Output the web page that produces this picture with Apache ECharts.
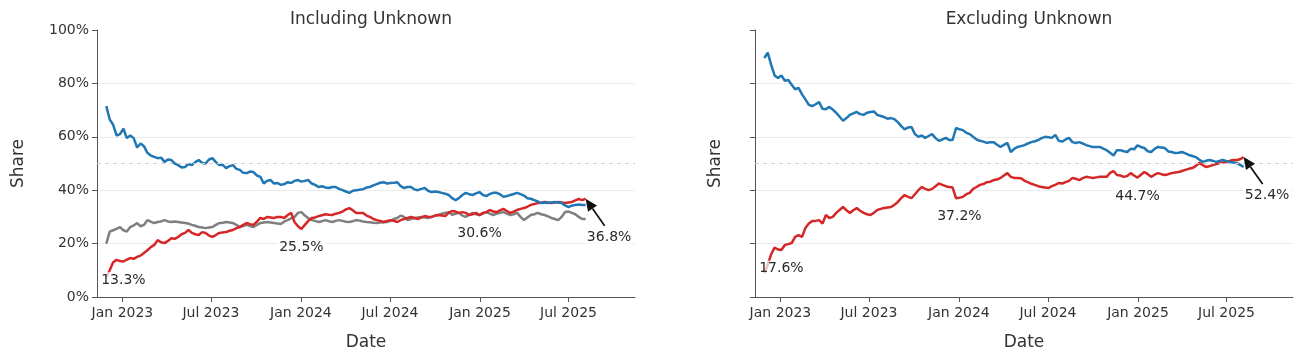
<!DOCTYPE html>
<html><head><meta charset="utf-8">
<script src="https://cdn.jsdelivr.net/npm/echarts@6/dist/echarts.min.js"></script>
<style>html,body{margin:0;padding:0;background:#fff}#c{width:1302px;height:363px}</style>
</head><body><div id="c"></div><script>
// ---- data (weekly samples starting 2022-11-29) ----
const startDate = [2022, 10, 29];
const stepDays = 7;
const blueIncl = [
71.5,66.5,64.5,60.5,61,63,59.5,60.5,59.5,56,
57.5,56.5,54,53,52.5,52,52.2,50.6,51.5,51.3,
50,49.4,48.5,48.7,49.8,49.4,50.5,51.3,50.2,50,
51.5,52,50.5,49.4,49.5,48.3,49,49.4,48,47.6,
46.5,46.4,47,46.8,45.5,45,42.5,43.5,43.8,42.5,
42.7,42,42.3,43,42.7,43.5,43.8,43.2,43.5,43.8,
42.5,42,41.2,41.5,41,40.8,41.2,41.2,40.5,40,
39.5,39,39.8,40,40.2,40.4,41,41.2,41.8,42.3,
42.8,43,42.5,42.7,42.8,43,41.5,40.8,41.2,41.2,
40.3,40,40.5,40.8,39.8,39.3,39.5,39.3,39,38.7,
38.2,37,36.3,37,38.2,39,38.5,38.2,38.8,39.3,
38.2,37.8,38.6,39,39,38.5,37.5,37.8,38.2,38.6,
39,38.5,38,37,36.8,36.3,35.8,35.2,35.4,35.2,
35.4,35.6,35.4,35.2,34.3,33.7,34.2,34.5,34.6,34.5,
34.5];
const redIncl = [
7.5,10,13,13.9,13.5,13.3,14,14.6,14.3,15,
15.5,16.5,17.5,18.7,19.5,21.3,20.5,20.2,21,22,
21.8,22.5,23.5,24,25.1,24,23.5,23.2,24.3,24,
23,22.5,23.2,24,24.2,24.3,24.8,25.1,25.8,26.2,
27,27.7,27.3,27,28.2,29.6,29.2,30,29.8,29.6,
30,30,29.6,30.7,31.5,28,26.5,25.5,27,28.5,
29.6,29.8,30.3,30.6,31,30.8,30.7,31.2,31.5,32,
32.8,33.3,32.5,31.5,31.5,31.5,30.5,30,29.2,28.8,
28.5,28.1,28.5,28.8,28.5,28.1,28.8,29.2,29.6,30,
29.6,29.2,29.8,30.3,30.1,30,30.4,30.7,30.5,30.3,
31.5,32.2,32,31.5,31.8,31.5,30.7,31,31.5,30.6,
31.5,31.8,32.6,32,31.8,32.4,33,32.2,31.5,32,
32.6,33,33.3,33.8,34.5,34.8,35.2,35.3,35.6,35.4,
35.2,35.4,35.6,35.4,35.2,35.4,35.6,36.2,36.7,36.3,
36.8];
const grayIncl = [
20,24.5,25,25.5,26.2,25,24.5,26.2,26.8,27.7,
26.5,27,28.8,28.2,27.7,28.1,28.3,28.8,28.3,28.1,
28.3,28.1,27.9,27.7,27.5,27,26.7,26.2,26,25.8,
26,26.2,27,27.7,27.8,28.1,27.9,27.7,27,26.2,
26.6,27,26.6,26.2,27,27.7,27.9,28.1,27.9,27.7,
27.5,27.3,28.3,28.8,29.5,30,31.5,31.8,30.5,29.5,
28.8,28.5,28.1,28.4,28.8,28.4,28.1,28.5,28.8,28.5,
28.2,28.1,28.4,28.8,28.6,28.3,28.1,28,27.8,27.7,
27.9,28,28.1,28.5,29.2,29.6,30.5,30,28.8,29.2,
29.6,29.8,30,29.8,29.6,30,30.5,30.7,31.2,31.5,
31.8,30.8,31.2,31.5,30.5,30,30.8,31.5,31,30.7,
31.2,31.8,31.2,30.7,31.2,31.5,31.8,31.2,30.7,31,
31.5,30,28.8,29.8,30.7,31,31.5,31,30.7,30.2,
29.6,29.2,28.8,30,31.8,32,31.5,31,30,29.2,
29.2];
const blueExcl = [
89.5,91.5,87,83,82,83,81,81.3,79.5,77.8,
78.3,76,74,72,71.5,72.2,73,70.5,70.3,71.2,
70.2,69,67.5,66,67,68.2,68.8,69.3,68.5,68.2,
69,69.3,69.5,68.2,67.8,67.4,66.8,67,66.6,65.5,
64,62.8,63.5,63.7,61,60,60.5,59.6,60.3,61,
59.5,58.5,59,59.6,58.8,58.8,63.3,62.8,62.5,61.5,
61,60,59,58.5,58.2,57.7,58,58,57,56.2,
57,57.7,54.3,55.5,56.2,56.5,56.9,57.5,58,58.3,
58.8,59.5,60,59.8,59.6,60.7,58.5,58.2,59,59.6,
58,57.7,58,57.5,56.9,56.5,56.2,56.2,56.2,55.6,
55,54,53,55,55,54.6,54.3,55.5,55.3,56.8,
56.2,55.8,54.6,54.3,55.5,56.2,56,55.8,54.5,54.3,
53.9,54,54.3,53.8,53.2,52.8,52.4,51.5,50.6,51,
51.3,51,50.6,51,51.3,50.9,50.6,50.4,50.2,49.5,
48.7];
const redExcl = [
9,12,16,18.5,17.8,17.6,19.5,19.8,20.2,22.5,
23.2,22.5,25.8,27.5,28.5,28.5,28.8,27.5,30.7,29.6,
30,31.5,32.6,33.7,32.5,31.5,32.5,33.3,32.3,31.5,
31,30.7,31.5,32.6,33,33.3,33.5,33.7,34.5,35.6,
37,38.2,37.5,37,38.5,40,41.2,40.5,40,40.5,
41.5,42.5,42,41.5,41.2,41,37,37.2,37.5,38.5,
39,40.5,41.2,42,42.3,43,43.2,43.8,44,44.6,
45.5,46.4,45,44.6,44.6,44.5,43.5,43,42.4,42,
41.5,41.2,41,40.8,41.5,42,42.7,42.5,43,43.5,
44.6,44.3,43.8,44.5,45,44.8,44.6,44.8,45,45,
45,46.5,47.2,45.7,45.5,45,45.3,46.4,45.5,44.7,
45.8,46.8,46,45,45.8,46.4,46,45.7,46,46.4,
46.6,46.8,47.2,47.6,48,48.3,49,50.2,49.5,48.7,
49,49.4,49.8,50.2,50.4,50.6,51,51.3,51.3,51.6,
52.4];
const annIdx = [5, 57, 109];   // Jan 2023, Jan 2024, Jan 2025
const lastIdx = 140;
const tickDates = ['2023-01-01','2023-07-01','2024-01-01','2024-07-01','2025-01-01','2025-07-01'];
const titles = ['Including Unknown', 'Excluding Unknown'];

// ---- build ----
const toTs = s => { const p = s.split('-').map(Number); return new Date(p[0], p[1]-1, p[2]).getTime(); };
const dates = blueIncl.map((_, i) => new Date(startDate[0], startDate[1], startDate[2] + stepDays * i).getTime());
const pts = arr => arr.map((v, i) => [dates[i], v]);
const tickTs = tickDates.map(toTs);
const MON = ['Jan','Feb','Mar','Apr','May','Jun','Jul','Aug','Sep','Oct','Nov','Dec'];
const FONT = 'DejaVu Sans';
const AX = '#555', TXT = '#333';
const BLUE = '#1f77b4', RED = '#d62728', GRAY = '#7f7f7f';

function xAxis(g) {
  return {
    type: 'value', gridIndex: g, min: toTs('2022-11-10'), max: toTs('2025-11-14'),
    name: 'Date', nameLocation: 'middle', nameGap: 37,
    nameTextStyle: { fontFamily: FONT, fontSize: 17, color: TXT },
    axisLine: { show: true, onZero: false, lineStyle: { color: AX, width: 1 } },
    axisTick: { show: true, length: 5, lineStyle: { color: AX }, customValues: tickTs },
    axisLabel: { fontFamily: FONT, fontSize: 14, color: TXT, margin: 9, customValues: tickTs,
      formatter: v => { const d = new Date(v); return MON[d.getMonth()] + ' ' + d.getFullYear(); } },
    splitLine: { show: false }
  };
}
function yAxis(g, labels) {
  return {
    type: 'value', gridIndex: g, min: 0, max: 100, interval: 20,
    name: 'Share', nameLocation: 'middle', nameGap: labels ? 70 : 31,
    nameTextStyle: { fontFamily: FONT, fontSize: 17, color: TXT },
    axisLine: { show: true, lineStyle: { color: AX, width: 1 } },
    axisTick: { show: true, length: 5, lineStyle: { color: AX } },
    axisLabel: { show: labels, fontFamily: FONT, fontSize: 14, color: TXT, margin: 8, formatter: '{value}%' },
    splitLine: { show: true, showMinLine: false, showMaxLine: false, lineStyle: { color: '#ebebeb', width: 1 } }
  };
}
function line(name, arr, color, g, mark) {
  const s = { type: 'line', name, xAxisIndex: g, yAxisIndex: g, data: pts(arr), showSymbol: false,
    lineStyle: { color, width: 2.5 }, itemStyle: { color }, emphasis: { disabled: true }, z: 3 };
  if (mark) s.markLine = { silent: true, symbol: 'none', label: { show: false },
    lineStyle: { color: '#d0d0d0', width: 1, type: [4, 4] }, data: [{ yAxis: 50 }] };
  return s;
}
const labelBox = { fontFamily: FONT, fontSize: 14, color: '#2a2a2a', opacity: 1, backgroundColor: 'rgba(255,255,255,0.7)', padding: [1, 2, 0, 2] };
const hiddenItem = { color: 'rgba(0,0,0,0)', opacity: 1 };
function ann(arr, g) {
  return [{
    type: 'scatter', xAxisIndex: g, yAxisIndex: g, symbolSize: 1, itemStyle: hiddenItem, silent: true, z: 10,
    data: annIdx.map(i => [dates[i], arr[i]]),
    label: Object.assign({ show: true, position: 'bottom', distance: 10, formatter: p => p.value[1].toFixed(1) + '%' }, labelBox)
  }, {
    type: 'scatter', xAxisIndex: g, yAxisIndex: g, symbolSize: 1, itemStyle: hiddenItem, silent: true, z: 10,
    data: [[dates[lastIdx], arr[lastIdx]]],
    label: Object.assign({ show: true, position: [24, 39], align: 'center', verticalAlign: 'middle', formatter: p => p.value[1].toFixed(1) + '%' }, labelBox)
  }];
}

const chart = echarts.init(document.getElementById('c'), null, { renderer: 'canvas' });
chart.setOption({
  animation: false,
  backgroundColor: '#fff',
  title: titles.map((t, i) => ({ text: t, left: i === 0 ? 366 : 1024, top: 6, textAlign: 'center',
    textStyle: { fontFamily: FONT, fontSize: 17, fontWeight: 'normal', color: TXT } })),
  grid: [{ left: 97, top: 30, width: 538, height: 267 }, { left: 755, top: 30, width: 538, height: 267 }],
  xAxis: [xAxis(0), xAxis(1)],
  yAxis: [yAxis(0, true), yAxis(1, false)],
  series: [
    line('Unknown', grayIncl, GRAY, 0, true),
    line('Red', redIncl, RED, 0),
    line('Blue', blueIncl, BLUE, 0),
    line('Red', redExcl, RED, 1, true),
    line('Blue', blueExcl, BLUE, 1),
    ...ann(redIncl, 0), ...ann(redExcl, 1)
  ]
});

// arrows for the last-point annotations (offset like an annotation arrow)
const arrows = [[0, redIncl], [1, redExcl]].map(([g, arr]) => {
  const P = chart.convertToPixel({ gridIndex: g }, [dates[lastIdx], arr[lastIdx]]);
  const T = [P[0] + 19, P[1] + 27];
  const dx = P[0] - T[0], dy = P[1] - T[1], L = Math.hypot(dx, dy);
  const ux = dx / L, uy = dy / L, nx = -uy, ny = ux, hl = 12, hw = 5.5;
  const B = [P[0] - ux * hl, P[1] - uy * hl];
  return [
    { type: 'line', shape: { x1: T[0], y1: T[1], x2: B[0], y2: B[1] }, style: { stroke: '#111', lineWidth: 1.7 }, z: 20 },
    { type: 'polygon', shape: { points: [P, [B[0] + nx * hw, B[1] + ny * hw], [B[0] - nx * hw, B[1] - ny * hw]] }, style: { fill: '#111' }, z: 20 }
  ];
}).flat();
chart.setOption({ graphic: arrows });
</script></body></html>
